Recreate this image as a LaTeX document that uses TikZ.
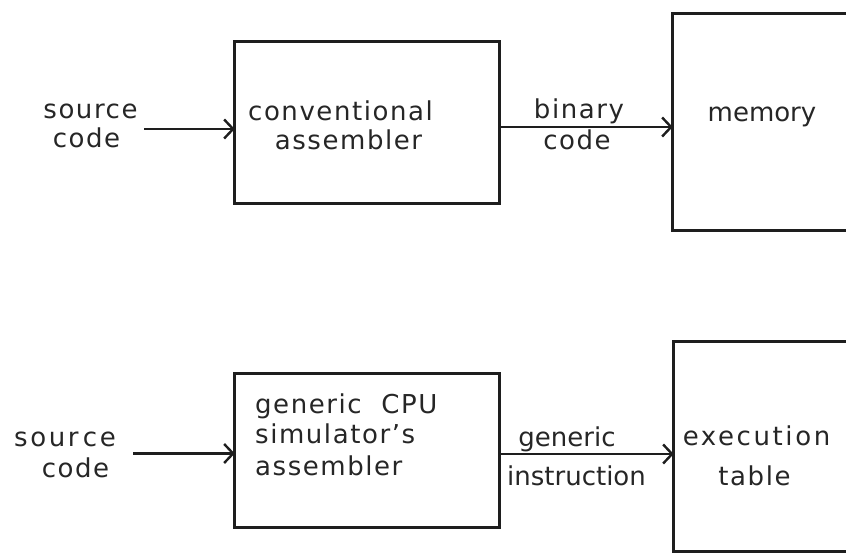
\documentclass[tikz,border=0pt]{standalone}
\usepackage{fontspec}
\setmainfont{DejaVu Sans}
\newfontfamily\spaced[LetterSpace=6]{DejaVu Sans}
\newfontfamily\wide[LetterSpace=10]{DejaVu Sans}
\usetikzlibrary{arrows.meta}
\definecolor{ink}{HTML}{1E1E1E}
\definecolor{txt}{HTML}{262626}
\tikzset{
  blockbox/.style={draw=none, inner sep=0pt},
  edge/.style={draw=ink, line width=2.8pt},
  arr/.style={edge, -{Straight Barb[length=9pt, width=19pt, line width=2.4pt]}},
  lbl/.style={inner sep=0pt, anchor=base, text=txt, font=\fontsize{26}{30}\selectfont},
  lblw/.style={lbl, anchor=base west},
}
\begin{document}
\begin{tikzpicture}[x=1pt, y=-1pt]
\useasboundingbox (0,0) rectangle (846,553);
% top row
\node[blockbox, minimum width=264pt, minimum height=161pt] (conv) at (367,122.5) {};
\node[blockbox, minimum width=173pt, minimum height=216pt] (mem) at (759.5,122) {};
\draw[edge] (conv.north west) rectangle (conv.south east);
\draw[edge] (mem.north east) -- (mem.north west) -- (mem.south west) -- (mem.south east);
\node[lbl] (conv1) at (340.5,121) {\spaced conventional};
\node[lbl] (conv2) at (348.5,150) {\spaced assembler};
\node[lbl] (memt) at (762,122) {memory};
\node[lbl] (src1a) at (90.5,119) {\spaced source};
\node[lbl] (src1b) at (86.5,148) {\spaced code};
\node[lbl] (bin1) at (579,119) {\spaced binary};
\node[lbl] (bin2) at (577,150) {\spaced code};
\coordinate (s1) at (144,129);
\coordinate (b1) at (600,127);
\draw[arr] (s1) -- (s1 -| conv.west);
\draw[arr] (conv.east |- b1) -- (mem.west |- b1);
% bottom row
\node[blockbox, minimum width=264pt, minimum height=153pt] (gen) at (367,450.5) {};
\node[blockbox, minimum width=172pt, minimum height=209pt] (exe) at (760,446.5) {};
\draw[edge] (gen.north west) rectangle (gen.south east);
\draw[edge] (exe.north east) -- (exe.north west) -- (exe.south west) -- (exe.south east);
\node[lblw] (gen1) at (255,413) {\spaced generic\ \ CPU};
\node[lblw] (gen2) at (255,443) {\spaced simulator’s};
\node[lblw] (gen3) at (255,475) {\spaced assembler};
\node[lbl] (exe1) at (756.5,445) {\wide execution};
\node[lbl] (exe2) at (754.5,485) {\spaced table};
\node[lbl] (src2a) at (65,446) {\wide sour\,ce};
\node[lbl] (src2b) at (75.5,477) {\spaced code};
\node[lbl] (gi1) at (567,446) {generic};
\node[lbl] (gi2) at (576.5,485) {instruction};
\coordinate (s2) at (133,453.5);
\coordinate (b2) at (600,454);
\draw[arr] (s2) -- (s2 -| gen.west);
\draw[arr] (gen.east |- b2) -- (exe.west |- b2);
\end{tikzpicture}
\end{document}
